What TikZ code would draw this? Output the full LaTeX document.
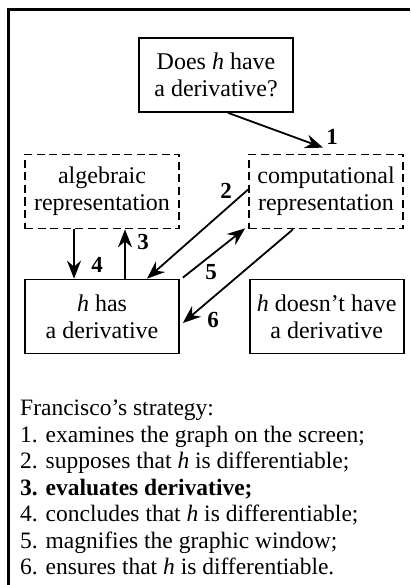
\documentclass[tikz,border=0pt]{standalone}
\usepackage{fontspec}
\setmainfont{Liberation Serif}
\usetikzlibrary{positioning, arrows.meta, calc}

\tikzset{
  box/.style={draw, line width=1.7pt, minimum width=154pt, minimum height=74pt,
              align=center, inner sep=2pt},
  dbox/.style={box, dash pattern=on 8pt off 4.5pt},
  arr/.style={line width=1.8pt, -{Stealth[length=18pt, width=14pt, inset=6pt]}},
  num/.style={font=\fontsize{23}{26}\selectfont\bfseries, inner sep=0pt},
}

\begin{document}
\begin{tikzpicture}[x=1pt, y=-1pt, font=\fontsize{24}{27}\selectfont]
  \useasboundingbox (0,0) rectangle (410,585);
  % frame, open at the right and at the bottom
  \draw[line width=2.4pt] (8.5,585) -- (8.5,9.5) -- (410,9.5);

  \node[box] (question) at (216,75) {Does \textit{h} have\\a derivative?};
  \node[dbox] (alg) at (102,191.5) {algebraic\\representation};
  \node[dbox] (comp) at (326,191.5) {computational\\representation};
  \node[box] (has) at (102,316.5) {\textit{h} has\\a derivative};
  \node[box, right=69pt of has] (hasnot) {\textit{h} doesn't have\\a derivative};

  % steps
  \draw[arr] ([xshift=12pt]question.south) -- ([shift={(-3pt,6pt)}]comp.north);
  \draw[arr] ([yshift=2pt]comp.west) -- ([xshift=45pt]has.north);
  \draw[arr] ([xshift=23pt]has.north) -- ([xshift=23pt]alg.south);
  \draw[arr] ([xshift=-28pt]alg.south) -- ([xshift=-28pt]has.north);
  \draw[arr] ([shift={(3pt,1pt)}]has.north east) -- ([shift={(-3pt,1pt)}]comp.south west);
  \draw[arr] ([xshift=-33pt]comp.south) -- ([shift={(3pt,-6.5pt)}]has.east);

  \node[num] (n1) at (332,137) {1};
  \node[num] (n2) at (226,191) {2};
  \node[num] (n3) at (143,242) {3};
  \node[num] (n4) at (97,265) {4};
  \node[num] (n5) at (211,272) {5};
  \node[num] (n6) at (213,320) {6};

  \node[anchor=north west, align=left, inner sep=0pt,
        font=\fontsize{23.5}{26.5}\selectfont] (strategy) at (20,400) {%
    Francisco's strategy:\\
    1. examines the graph on the screen;\\
    2. supposes that \textit{h} is differentiable;\\
    \textbf{3. evaluates derivative;}\\
    4. concludes that \textit{h} is differentiable;\\
    5. magnifies the graphic window;\\
    6. ensures that \textit{h} is differentiable.};
\end{tikzpicture}
\end{document}
